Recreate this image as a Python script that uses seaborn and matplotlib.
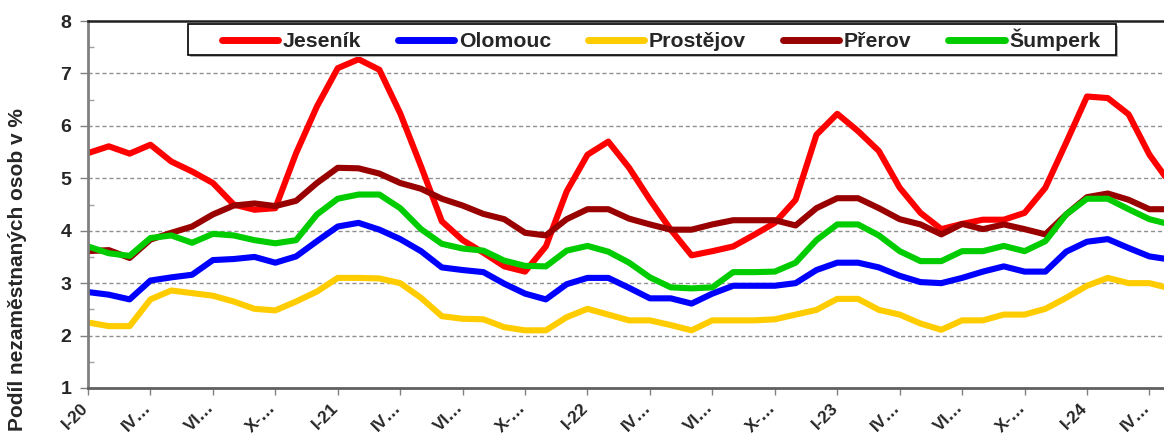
import numpy as np
import pandas as pd
import seaborn as sns
import matplotlib.pyplot as plt
from matplotlib.patches import Rectangle
from matplotlib.ticker import MultipleLocator
from matplotlib.transforms import ScaledTranslation

# monthly values I-20 .. V-24
jesenik = [5.48, 5.61, 5.47, 5.64, 5.32, 5.13, 4.91, 4.50, 4.40, 4.43,
           5.48, 6.37, 7.10, 7.27, 7.07, 6.24, 5.23, 4.18, 3.82, 3.58,
           3.32, 3.22, 3.70, 4.75, 5.45, 5.70, 5.20, 4.59, 4.02, 3.53,
           3.61, 3.70, 3.92, 4.15, 4.59, 5.83, 6.23, 5.90, 5.52, 4.82,
           4.34, 4.03, 4.13, 4.21, 4.21, 4.34, 4.82, 5.68, 6.56, 6.53,
           6.22, 5.45, 4.90]
olomouc = [2.83, 2.78, 2.69, 3.05, 3.11, 3.16, 3.44, 3.46, 3.50, 3.39,
           3.51, 3.80, 4.08, 4.15, 4.02, 3.84, 3.61, 3.30, 3.25, 3.21,
           2.99, 2.80, 2.69, 2.98, 3.10, 3.10, 2.91, 2.71, 2.71, 2.61,
           2.80, 2.95, 2.95, 2.95, 3.00, 3.25, 3.39, 3.39, 3.30, 3.14,
           3.02, 3.00, 3.10, 3.22, 3.32, 3.22, 3.22, 3.60, 3.79, 3.84,
           3.67, 3.51, 3.45]
prostejov = [2.25, 2.18, 2.18, 2.69, 2.86, 2.81, 2.76, 2.65, 2.51, 2.48,
             2.65, 2.84, 3.10, 3.10, 3.09, 3.00, 2.72, 2.37, 2.32, 2.31,
             2.16, 2.10, 2.10, 2.35, 2.51, 2.40, 2.29, 2.29, 2.20, 2.10,
             2.29, 2.29, 2.29, 2.31, 2.40, 2.49, 2.70, 2.70, 2.49, 2.40,
             2.23, 2.11, 2.29, 2.29, 2.40, 2.40, 2.51, 2.72, 2.95, 3.10,
             3.00, 3.00, 2.90]
prerov = [3.61, 3.63, 3.48, 3.83, 3.96, 4.08, 4.31, 4.48, 4.52, 4.47,
          4.57, 4.91, 5.20, 5.19, 5.09, 4.91, 4.80, 4.61, 4.48, 4.32,
          4.22, 3.96, 3.91, 4.22, 4.41, 4.41, 4.23, 4.12, 4.02, 4.02,
          4.12, 4.20, 4.20, 4.20, 4.10, 4.43, 4.62, 4.62, 4.43, 4.22,
          4.12, 3.93, 4.13, 4.03, 4.12, 4.03, 3.93, 4.31, 4.64, 4.71,
          4.59, 4.41, 4.41]
sumperk = [3.70, 3.57, 3.52, 3.86, 3.91, 3.77, 3.94, 3.91, 3.82, 3.76,
           3.82, 4.31, 4.61, 4.69, 4.69, 4.43, 4.03, 3.75, 3.66, 3.62,
           3.43, 3.33, 3.32, 3.62, 3.71, 3.60, 3.39, 3.11, 2.92, 2.90,
           2.92, 3.21, 3.21, 3.22, 3.39, 3.82, 4.12, 4.12, 3.91, 3.61,
           3.42, 3.42, 3.61, 3.61, 3.71, 3.61, 3.80, 4.31, 4.61, 4.61,
           4.41, 4.22, 4.12]

districts = ['Jeseník', 'Olomouc', 'Prostějov', 'Přerov', 'Šumperk']
colors = ['#FF0000', '#0000FF', '#FFCC00', '#990000', '#00CC00']
tick_labels = ['I-20', 'IV…', 'VI…', 'X-…', 'I-21', 'IV…', 'VI…', 'X-…',
               'I-22', 'IV…', 'VI…', 'X-…', 'I-23', 'IV…', 'VI…', 'X-…',
               'I-24', 'IV…']

series = [jesenik, olomouc, prostejov, prerov, sumperk]
frames = []
for name, vals in zip(districts, series):
    frames.append(pd.DataFrame({'month': np.arange(len(vals)),
                                'value': vals, 'okres': name}))
df = pd.concat(frames, ignore_index=True)

sns.set_theme(style='white')
plt.rcParams['font.family'] = ['Liberation Sans', 'DejaVu Sans']
plt.rcParams['font.weight'] = 'bold'

W, H = 1164, 437
fig = plt.figure(figsize=(W / 100, H / 100), dpi=100)
ax = fig.add_axes([88 / W, 1 - 388 / H, 1 - 88 / W, 367 / H])

sns.lineplot(data=df, x='month', y='value', hue='okres',
             palette=dict(zip(districts, colors)), linewidth=4.4,
             ax=ax, legend=True)

ax.set_xlim(0, 51.7)
ax.set_ylim(1, 8)
ax.yaxis.set_major_locator(MultipleLocator(1))
ax.yaxis.set_minor_locator(MultipleLocator(0.5))
ax.set_xticks(np.arange(0, 3 * len(tick_labels), 3))
ax.tick_params(axis='x', which='major', direction='out', length=5,
               width=1, color='#808080', pad=3, bottom=True)
ax.tick_params(axis='y', which='major', direction='out', length=6,
               width=1, color='#808080', labelsize=14, pad=6, left=True)
ax.tick_params(axis='y', which='minor', direction='in', length=4,
               width=1, color='#a0a0a0', left=True)
ax.set_xticklabels(tick_labels, rotation=45, ha='right', va='top',
                   rotation_mode='anchor', fontsize=12.5, fontweight='bold')
shift = ScaledTranslation(-7 / 100, -1 / 100, fig.dpi_scale_trans)
for lab in ax.get_xticklabels():
    lab.set_transform(lab.get_transform() + shift)
for lab in ax.get_yticklabels():
    lab.set_fontweight('bold')

for y in range(2, 8):
    ax.axhline(y, color='#909090', lw=1, ls=(0, (3, 2)), zorder=0)

ax.spines['left'].set_color('#808080')
ax.spines['left'].set_linewidth(2)
ax.spines['bottom'].set_color('#606060')
ax.spines['bottom'].set_linewidth(2)
ax.spines['top'].set_color('#202020')
ax.spines['top'].set_linewidth(1.8)
ax.spines['right'].set_visible(False)

ax.set_xlabel('')
ax.set_ylabel('Podíl nezaměstnaných osob v %', fontsize=15,
              fontweight='bold')
ax.yaxis.set_label_coords((27 - 88) / 1076, (388 - 270) / 367)

# legend: frame drawn separately (wide side padding, tight vertical)
handles, labels = ax.get_legend_handles_labels()
ax.get_legend().remove()
fig.patches.append(Rectangle((190 / W, 1 - 57 / H), 928 / W, 31 / H,
                             transform=fig.transFigure, facecolor='#b0b0b0',
                             edgecolor='none', zorder=4))
fig.patches.append(Rectangle((188 / W, 1 - 55 / H), 928 / W, 31 / H,
                             transform=fig.transFigure, facecolor='white',
                             edgecolor='black', lw=1.2, zorder=5))
leg = fig.legend(handles, labels, ncol=5, loc='center left',
                 bbox_to_anchor=(222 / W, 1 - 40 / H),
                 bbox_transform=fig.transFigure, frameon=False,
                 handlelength=2.65, handletextpad=0.2, columnspacing=1.75,
                 borderpad=0, borderaxespad=0,
                 prop={'weight': 'bold', 'size': 15.3})
leg.set_zorder(6)
for line in leg.get_lines():
    line.set_linewidth(5)

fig.savefig('out.png', dpi=100)
